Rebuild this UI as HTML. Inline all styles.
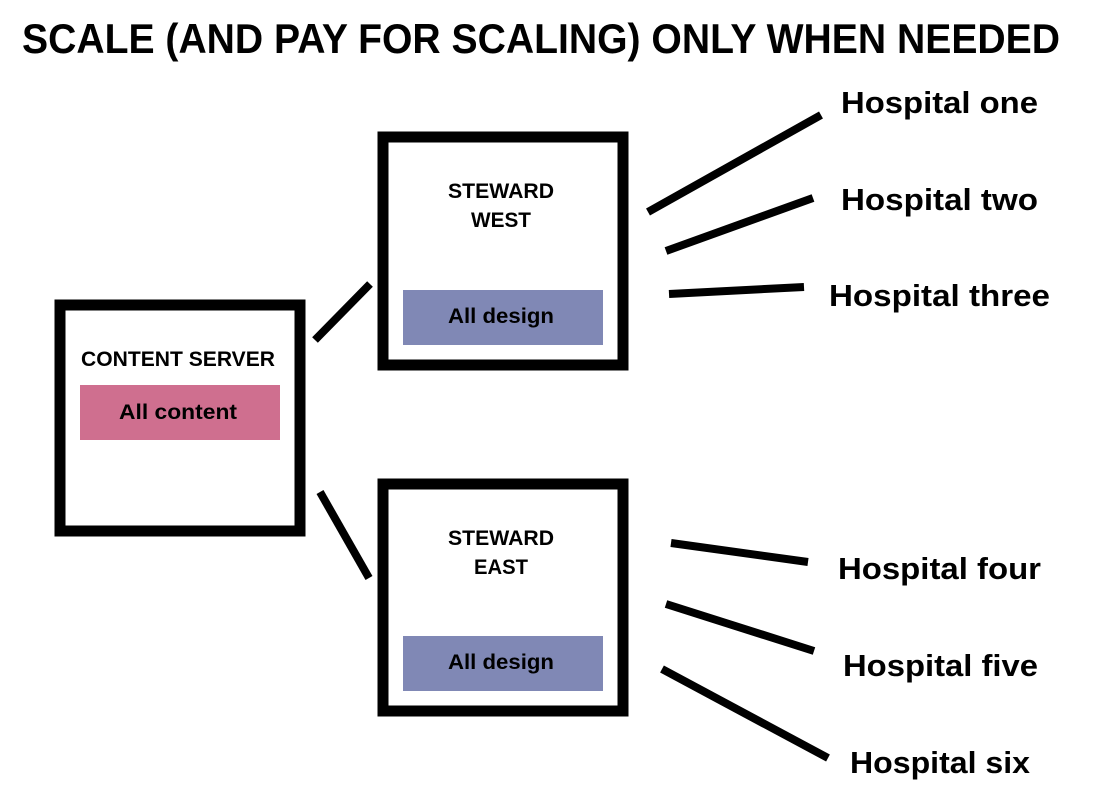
<!DOCTYPE html>
<html><head><meta charset="utf-8"><style>
html,body{margin:0;padding:0;background:#fff;}
svg{display:block;}
text{font-family:"Liberation Sans",sans-serif;font-weight:bold;fill:#000;}
</style></head><body>
<svg width="1098" height="803" viewBox="0 0 1098 803" xmlns="http://www.w3.org/2000/svg">
<text x="22" y="53" font-size="42" textLength="1038" lengthAdjust="spacingAndGlyphs">SCALE (AND PAY FOR SCALING) ONLY WHEN NEEDED</text>

<rect x="60" y="305" width="240" height="226" fill="#fff" stroke="#000" stroke-width="11"/>
<text x="178" y="366" font-size="21" text-anchor="middle" textLength="194" lengthAdjust="spacingAndGlyphs">CONTENT SERVER</text>
<rect x="80" y="385" width="200" height="55" fill="#cf6f8f"/>
<text x="178" y="419" font-size="21" text-anchor="middle" textLength="118" lengthAdjust="spacingAndGlyphs">All content</text>

<rect x="383" y="137" width="240" height="228" fill="#fff" stroke="#000" stroke-width="11"/>
<text x="501" y="198" font-size="21" text-anchor="middle" textLength="106" lengthAdjust="spacingAndGlyphs">STEWARD</text>
<text x="501" y="227" font-size="21" text-anchor="middle" textLength="60" lengthAdjust="spacingAndGlyphs">WEST</text>
<rect x="403" y="290" width="200" height="55" fill="#8088b5"/>
<text x="501" y="323" font-size="21" text-anchor="middle" textLength="106" lengthAdjust="spacingAndGlyphs">All design</text>

<rect x="383" y="484" width="240" height="227" fill="#fff" stroke="#000" stroke-width="11"/>
<text x="501" y="545" font-size="21" text-anchor="middle" textLength="106" lengthAdjust="spacingAndGlyphs">STEWARD</text>
<text x="501" y="574" font-size="21" text-anchor="middle" textLength="54" lengthAdjust="spacingAndGlyphs">EAST</text>
<rect x="403" y="636" width="200" height="55" fill="#8088b5"/>
<text x="501" y="669" font-size="21" text-anchor="middle" textLength="106" lengthAdjust="spacingAndGlyphs">All design</text>

<g stroke="#000" stroke-width="8" fill="none">
<line x1="315" y1="340" x2="370" y2="284"/>
<line x1="320" y1="492" x2="369" y2="578"/>
<line x1="648" y1="212" x2="821" y2="115"/>
<line x1="666" y1="251" x2="813" y2="198"/>
<line x1="669" y1="294" x2="804" y2="287"/>
<line x1="671" y1="543" x2="808" y2="562"/>
<line x1="666" y1="604" x2="814" y2="651"/>
<line x1="662" y1="669" x2="828" y2="758"/>
</g>

<g font-size="31">
<text x="841" y="113" textLength="197" lengthAdjust="spacingAndGlyphs">Hospital one</text>
<text x="841" y="210" textLength="197" lengthAdjust="spacingAndGlyphs">Hospital two</text>
<text x="829" y="306" textLength="221" lengthAdjust="spacingAndGlyphs">Hospital three</text>
<text x="838" y="579" textLength="203" lengthAdjust="spacingAndGlyphs">Hospital four</text>
<text x="843" y="676" textLength="195" lengthAdjust="spacingAndGlyphs">Hospital five</text>
<text x="850" y="773" textLength="180" lengthAdjust="spacingAndGlyphs">Hospital six</text>
</g>
</svg>
</body></html>
